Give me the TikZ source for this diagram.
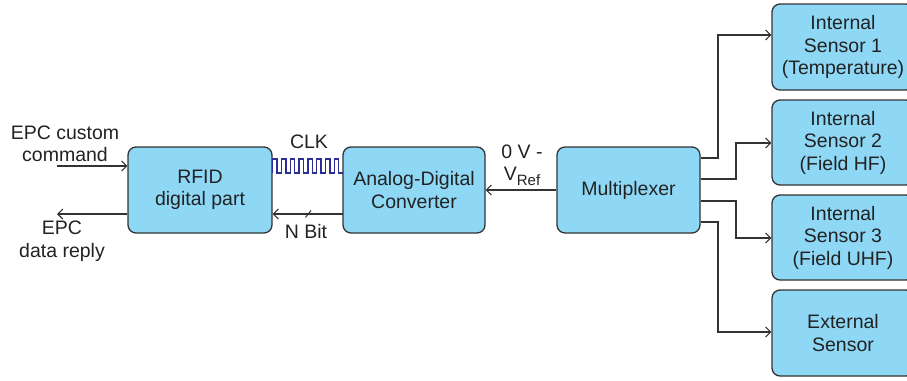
\documentclass[tikz,border=0pt]{standalone}
\usepackage{fontspec}
\setmainfont{Liberation Sans}
\usetikzlibrary{arrows.meta}
\definecolor{boxfill}{RGB}{142,216,246}
\definecolor{edge}{RGB}{51,51,51}
\definecolor{ink}{RGB}{34,34,34}
\definecolor{clkblue}{RGB}{45,45,150}
\newcommand{\refsub}[1]{\raisebox{-4.5pt}{\fontsize{15}{15}\selectfont #1}}
\begin{document}
\begin{tikzpicture}[x=1pt,y=-1pt,
  every node/.style={font=\fontsize{19.5}{22.5}\selectfont, text=ink},
  block/.style={draw=edge, line width=1.3pt, fill=boxfill, rounded corners=8pt,
    align=center, inner sep=0pt},
  lbl/.style={align=center, inner sep=0pt},
  conn/.style={draw=edge, line width=1.1pt,
    -{Straight Barb[length=5pt,width=10pt,line width=1.1pt]}}]
\useasboundingbox (0,0) rectangle (907,380);
\begin{scope}
\clip (0,0) rectangle (907,380);
% main blocks
\node[block, minimum width=144pt, minimum height=86pt] (rfid) at (200,190) {RFID\\digital part};
\node[block, minimum width=142pt, minimum height=86pt] (adc) at (414,190) {Analog-Digital\\Converter};
\node[block, minimum width=143pt, minimum height=86pt] (mux) at (628.5,190) {Multiplexer};
% sensor blocks
\node[block, minimum width=142pt, minimum height=86pt] (s1) at (843,47) {Internal\\Sensor 1\\(Temperature)};
\node[block, minimum width=142pt, minimum height=85pt] (s2) at (843,142.5) {Internal\\Sensor 2\\(Field HF)};
\node[block, minimum width=142pt, minimum height=85pt] (s3) at (843,237.5) {Internal\\Sensor 3\\(Field UHF)};
\node[block, minimum width=142pt, minimum height=86pt] (s4) at (843,333) {External\\Sensor};
\end{scope}
% labels
\node[lbl] (cmd) at (65,144) {EPC custom\\command};
\node[lbl] (reply) at (62,241) {EPC\\data reply};
\node[lbl] (clk) at (309,142) {CLK};
\node[lbl] (nbit) at (306,232) {N Bit};
\node[lbl] (vref) at (522,165) {0 V -\\V\refsub{Ref}};
% free ends of the external lines
\coordinate (cin) at (57,166);
\coordinate (cout) at (57,214);
% external command and reply
\draw[conn] (cin) -- (cin -| rfid.west);
\draw[conn] (rfid.west |- cout) -- (cout);
% N-bit bus with slash
\coordinate (nb) at (343,214);
\draw[conn] (nb) -- (nb -| rfid.east);
\draw[draw=edge, line width=1pt] (305.5,217.5) -- (311,210.5);
% reference voltage path
\draw[conn] (mux.west) -- (adc.east);
% clock waveform
\draw[clkblue, line width=1.3pt]
  (rfid.east |- 0,173)
  \foreach \k in {0,...,7} { -- ++(0,-14) -- ++(4.4,0) -- ++(0,14) -- ++(4.4,0) }
  -- (adc.west |- 0,173);
% multiplexer outputs
\draw[conn] (mux.east |- 0,158) -- (718,158) -- (718,35) -- (s1.west |- 0,35);
\draw[conn] (mux.east |- 0,179) -- (736,179) -- (736,143) -- (s2.west |- 0,143);
\draw[conn] (mux.east |- 0,201) -- (736,201) -- (736,238) -- (s3.west |- 0,238);
\draw[conn] (mux.east |- 0,222) -- (718,222) -- (718,332) -- (s4.west |- 0,332);
\end{tikzpicture}
\end{document}
